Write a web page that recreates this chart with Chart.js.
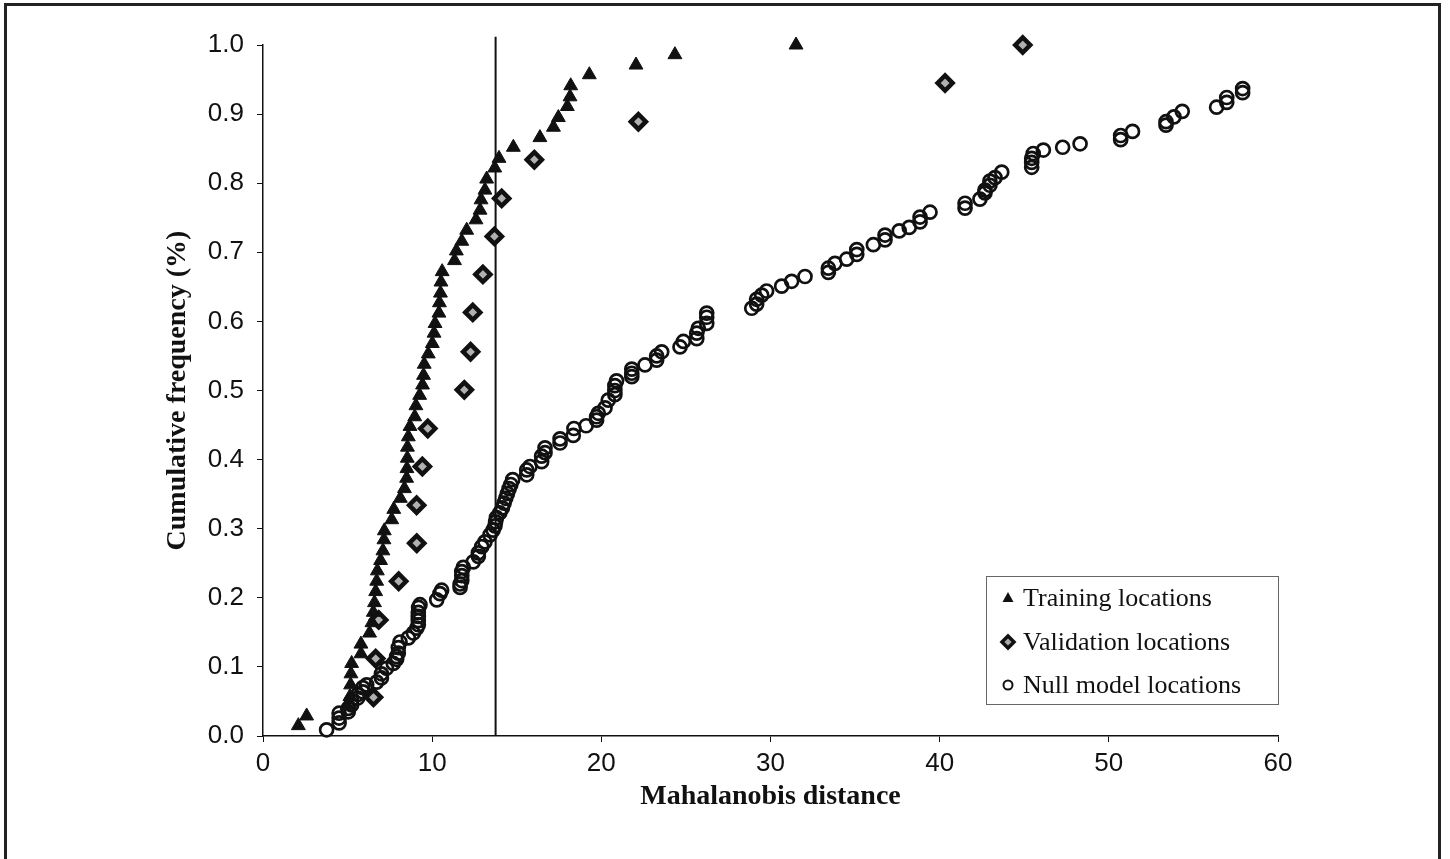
<!DOCTYPE html>
<html>
<head>
<meta charset="utf-8">
<script src="https://cdn.jsdelivr.net/npm/chart.js@4.4.1/dist/chart.umd.min.js"></script>
<style>
  html, body { margin: 0; padding: 0; background: #fff; }
  #wrap { position: relative; width: 1450px; height: 859px; overflow: hidden; }
  #frame { position: absolute; left: 4px; top: 3px; width: 1437px; height: 900px; border: 3px solid #222; box-sizing: border-box; pointer-events: none; }
  canvas { position: absolute; left: 0; top: 0; }
</style>
</head>
<body>
<div id="wrap">
  <canvas id="c" width="1450" height="859"></canvas>
  <div id="frame"></div>
</div>
<script>
// ---- Data ----
const seriesNames = ["Training locations", "Validation locations", "Null model locations"];

const trainingX = [2.09, 2.58, 4.97, 5.14, 5.18, 5.20, 5.24, 5.79, 5.79, 6.30, 6.44, 6.52, 6.59, 6.66, 6.72, 6.76, 6.95, 7.09, 7.15, 7.17,
  7.61, 7.73, 8.12, 8.36, 8.49, 8.51, 8.53, 8.54, 8.59, 8.69, 8.97, 9.04, 9.26, 9.43, 9.49, 9.53, 9.77, 10.01, 10.11, 10.17,
  10.40, 10.43, 10.49, 10.52, 10.59, 11.32, 11.43, 11.75, 12.04, 12.59, 12.83, 12.89, 13.12, 13.22, 13.70, 13.95, 14.80, 16.37, 17.17, 17.46,
  17.99, 18.15, 18.19, 19.29, 22.05, 24.35, 31.51];
const trainingY = [0.015, 0.029, 0.044, 0.057, 0.074, 0.090, 0.105, 0.119, 0.133, 0.149, 0.164, 0.179, 0.193, 0.209, 0.224, 0.239, 0.254, 0.268, 0.284, 0.297,
  0.313, 0.328, 0.344, 0.358, 0.373, 0.387, 0.402, 0.418, 0.433, 0.448, 0.462, 0.478, 0.493, 0.508, 0.522, 0.538, 0.553, 0.568, 0.583, 0.597,
  0.612, 0.627, 0.641, 0.657, 0.672, 0.688, 0.702, 0.716, 0.732, 0.747, 0.761, 0.776, 0.790, 0.806, 0.822, 0.836, 0.852, 0.866, 0.881, 0.895,
  0.911, 0.925, 0.941, 0.957, 0.971, 0.986, 1.000];

const validationX = [6.53, 6.66, 6.84, 8.02, 9.09, 9.08, 9.42, 9.74, 11.90, 12.27, 12.40, 13.00, 13.68, 14.11, 16.04, 22.19, 40.32, 44.91];
const validationY = [0.056, 0.112, 0.168, 0.224, 0.279, 0.334, 0.390, 0.445, 0.501, 0.556, 0.613, 0.668, 0.723, 0.778, 0.834, 0.889, 0.945, 1.000];

const nullX = [3.76, 4.50, 4.50, 4.50, 5.04, 5.04, 5.24, 5.24, 5.60, 5.60, 5.90, 5.90, 6.13, 6.72, 7.00, 7.00, 7.30, 7.70, 7.90, 7.90,
  8.00, 8.00, 8.10, 8.59, 8.89, 9.09, 9.18, 9.18, 9.18, 9.18, 9.20, 9.28, 10.27, 10.46, 10.56, 11.65, 11.65, 11.75, 11.75, 11.75,
  11.84, 12.43, 12.73, 12.73, 12.93, 13.12, 13.42, 13.60, 13.71, 13.75, 13.80, 14.00, 14.15, 14.25, 14.35, 14.45, 14.55, 14.65, 14.76, 15.59,
  15.59, 15.78, 16.47, 16.47, 16.67, 16.67, 17.56, 17.56, 18.34, 18.38, 19.10, 19.72, 19.72, 19.82, 20.22, 20.41, 20.80, 20.80, 20.80, 20.90,
  21.80, 21.80, 21.80, 22.58, 23.27, 23.27, 23.57, 24.65, 24.85, 25.64, 25.64, 25.73, 26.23, 26.23, 26.23, 28.89, 29.18, 29.18, 29.48, 29.77,
  30.66, 31.25, 32.04, 33.42, 33.42, 33.81, 34.50, 35.10, 35.10, 36.08, 36.77, 36.77, 37.61, 38.20, 38.84, 38.84, 39.43, 41.50, 41.50, 42.38,
  42.68, 42.68, 42.97, 42.97, 43.27, 43.67, 45.44, 45.44, 45.44, 45.53, 46.13, 47.27, 48.30, 50.70, 50.70, 51.40, 53.38, 53.38, 53.85, 54.34,
  56.37, 56.97, 56.97, 57.91, 57.91];
const nullY = [0.009, 0.019, 0.026, 0.033, 0.035, 0.040, 0.045, 0.051, 0.055, 0.060, 0.064, 0.070, 0.074, 0.078, 0.084, 0.090, 0.098, 0.105, 0.111, 0.115,
  0.120, 0.128, 0.136, 0.142, 0.149, 0.156, 0.161, 0.167, 0.173, 0.179, 0.186, 0.190, 0.197, 0.206, 0.211, 0.215, 0.220, 0.225, 0.232, 0.238,
  0.244, 0.252, 0.260, 0.265, 0.274, 0.281, 0.291, 0.298, 0.304, 0.310, 0.316, 0.323, 0.330, 0.337, 0.344, 0.351, 0.358, 0.364, 0.371, 0.378,
  0.385, 0.390, 0.397, 0.405, 0.410, 0.417, 0.424, 0.430, 0.435, 0.445, 0.449, 0.457, 0.462, 0.467, 0.475, 0.486, 0.494, 0.500, 0.507, 0.514,
  0.520, 0.525, 0.531, 0.537, 0.544, 0.550, 0.556, 0.563, 0.571, 0.575, 0.583, 0.590, 0.597, 0.606, 0.612, 0.619, 0.625, 0.632, 0.638, 0.644,
  0.651, 0.658, 0.665, 0.671, 0.677, 0.684, 0.690, 0.697, 0.704, 0.711, 0.718, 0.725, 0.731, 0.736, 0.744, 0.751, 0.758, 0.764, 0.771, 0.777,
  0.786, 0.790, 0.797, 0.803, 0.808, 0.816, 0.823, 0.830, 0.836, 0.843, 0.848, 0.852, 0.857, 0.863, 0.869, 0.875, 0.884, 0.889, 0.896, 0.904,
  0.910, 0.917, 0.924, 0.931, 0.937, 0.944];

const thresholdX = [13.75, 13.75];
const thresholdY = [0, 1.012];

const xTickValues = [0, 10, 20, 30, 40, 50, 60];
const yTickValues = [0.0, 0.1, 0.2, 0.3, 0.4, 0.5, 0.6, 0.7, 0.8, 0.9, 1.0];
const xTitle = "Mahalanobis distance";
const yTitle = "Cumulative frequency (%)";

// ---- Build chart ----
const zip = (xs, ys) => xs.map((x, i) => ({ x: x, y: ys[i] }));
const INK = '#111';

const legendPlugin = {
  id: 'boxLegend',
  afterDatasetsDraw(chart) {
    const ctx = chart.ctx;
    const a = chart.chartArea;
    const w = 292, h = 128;
    const x0 = a.right - w, y0 = a.bottom - 32 - h;
    ctx.save();
    ctx.fillStyle = '#fff';
    ctx.fillRect(x0, y0, w, h);
    ctx.strokeStyle = '#666';
    ctx.lineWidth = 1;
    ctx.strokeRect(x0 + 0.5, y0 + 0.5, w, h);
    const rows = [y0 + 22, y0 + 66, y0 + 109];
    const mx = x0 + 22;
    ctx.font = '26px "Liberation Serif", "Times New Roman", serif';
    ctx.textBaseline = 'middle';
    ctx.textAlign = 'left';
    ctx.fillStyle = INK;
    seriesNames.forEach((name, i) => ctx.fillText(name, x0 + 37, rows[i] + 1));
    // markers
    ctx.fillStyle = INK;
    ctx.beginPath();
    ctx.moveTo(mx, rows[0] - 6); ctx.lineTo(mx + 5.5, rows[0] + 4); ctx.lineTo(mx - 5.5, rows[0] + 4); ctx.closePath();
    ctx.fill();
    ctx.beginPath();
    ctx.moveTo(mx, rows[1] - 6); ctx.lineTo(mx + 6, rows[1]); ctx.lineTo(mx, rows[1] + 6); ctx.lineTo(mx - 6, rows[1]); ctx.closePath();
    ctx.fillStyle = '#aaa'; ctx.fill();
    ctx.lineWidth = 3.5; ctx.strokeStyle = INK; ctx.stroke();
    ctx.beginPath();
    ctx.arc(mx, rows[2], 4.5, 0, Math.PI * 2);
    ctx.lineWidth = 2; ctx.stroke();
    ctx.restore();
  }
};

new Chart(document.getElementById('c'), {
  type: 'scatter',
  data: {
    datasets: [
      {
        label: 'threshold', data: zip(thresholdX, thresholdY), showLine: true,
        borderColor: INK, borderWidth: 2, pointRadius: 0, clip: false, order: 5
      },
      {
        label: seriesNames[2], data: zip(nullX, nullY), pointStyle: 'circle', pointRadius: 6.5,
        borderWidth: 2.7, borderColor: INK, backgroundColor: 'rgba(0,0,0,0)', order: 3, clip: false
      },
      {
        label: seriesNames[1], data: zip(validationX, validationY), pointStyle: 'rectRot', pointRadius: 7.5,
        borderWidth: 4.5, borderColor: INK, backgroundColor: '#b0b0b0', order: 2, clip: false
      },
      {
        label: seriesNames[0], data: zip(trainingX, trainingY), pointStyle: 'triangle', pointRadius: 8,
        borderWidth: 1, borderColor: INK, backgroundColor: INK, order: 1, clip: false
      }
    ]
  },
  options: {
    responsive: false,
    animation: false,
    events: [],
    layout: { padding: { left: 0, top: 45, right: 172, bottom: 0 } },
    plugins: { legend: { display: false }, tooltip: { enabled: false } },
    scales: {
      x: {
        type: 'linear', min: 0, max: 60,
        afterBuildTicks: (s) => { s.ticks = xTickValues.map(v => ({ value: v })); },
        afterFit: (s) => { s.height = 123; },
        grid: { display: true, drawOnChartArea: false, drawTicks: true, tickLength: 6, color: INK, lineWidth: 1 },
        border: { display: true, color: INK, width: 1.5 },
        ticks: { color: INK, padding: 6, font: { family: '"Liberation Sans", Arial, sans-serif', size: 26 } },
        title: { display: true, text: xTitle, color: INK, padding: { top: 0, bottom: 45 },
          font: { family: '"Liberation Serif", "Times New Roman", serif', size: 28, weight: 'bold' } }
      },
      y: {
        type: 'linear', min: 0, max: 1,
        afterBuildTicks: (s) => { s.ticks = yTickValues.map(v => ({ value: v })); },
        afterFit: (s) => { s.width = 263; },
        grid: { display: true, drawOnChartArea: false, drawTicks: true, tickLength: 6, color: INK, lineWidth: 1 },
        border: { display: true, color: INK, width: 1.5 },
        ticks: { color: INK, padding: 13, callback: (v) => Number(v).toFixed(1),
          font: { family: '"Liberation Sans", Arial, sans-serif', size: 26 } },
        title: { display: true, text: yTitle, color: INK, padding: { top: 161, bottom: 0 },
          font: { family: '"Liberation Serif", "Times New Roman", serif', size: 28, weight: 'bold' } }
      }
    }
  },
  plugins: [legendPlugin]
});
</script>
</body>
</html>
